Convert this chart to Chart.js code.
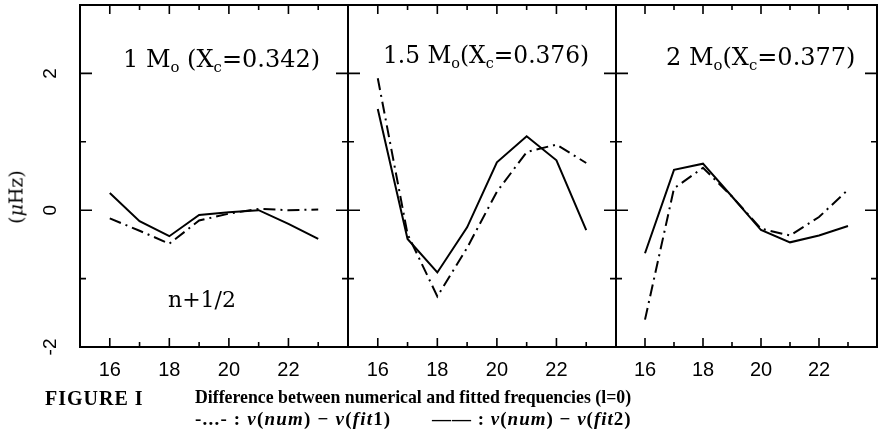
<!DOCTYPE html>
<html>
<head>
<meta charset="utf-8">
<script src="https://cdn.jsdelivr.net/npm/chart.js@4.4.0/dist/chart.umd.min.js"></script>
<style>
body { margin: 0; background: #fff; width: 888px; height: 434px; position: relative; overflow: hidden; font-family: "DejaVu Serif", serif; color: #000; }
.box { position: absolute; left: 0; top: 0; width: 888px; height: 390px; }
.t { position: absolute; white-space: nowrap; line-height: 1; }
.title { font-size: 24px; }
sub { font-size: 62%; vertical-align: baseline; position: relative; top: 0.35em; }
.cap { font-family: "Liberation Serif", serif; font-size: 17.8px; font-weight: bold; }
</style>
</head>
<body>
<div class="box"><canvas id="p0"></canvas></div>
<div class="box"><canvas id="p1"></canvas></div>
<div class="box"><canvas id="p2"></canvas></div>

<div class="t title" style="left:123px; top:47px;">1 M<sub>o</sub> (X<sub>c</sub>=0.342)</div>
<div class="t title" style="left:383px; top:43px; font-size:23.3px;">1.5 M<sub>o</sub>(X<sub>c</sub>=0.376)</div>
<div class="t title" style="left:666px; top:45px;">2 M<sub>o</sub>(X<sub>c</sub>=0.377)</div>
<div class="t" style="left:168px; top:289px; font-size:22px;">n+1/2</div>
<div class="t" style="left:16px; top:197px; font-size:19px; transform: translate(-50%,-50%) rotate(-90deg);">(<i>μ</i>Hz)</div>

<div class="t cap" style="left:45px; top:388px; font-size:20px; letter-spacing:1px;">FIGURE I</div>
<div class="t cap" style="left:195px; top:389px;">Difference between numerical and fitted frequencies (l=0)</div>
<div class="t cap" style="left:195px; top:409px; font-size:19px; letter-spacing:1.2px;">-...- : <i>ν</i>(<i>num</i>) − <i>ν</i>(<i>fit</i>1)</div>
<div class="t cap" style="left:432px; top:409px; font-size:19px; letter-spacing:1px;">—— : <i>ν</i>(<i>num</i>) − <i>ν</i>(<i>fit</i>2)</div>

<script>
// radial order n, same for all panels
const nModes = [16, 17, 18, 19, 20, 21, 22, 23];

// nu(num) - nu(fit1), dash-dot curves
const fit1_1M  = [-0.12, -0.30, -0.49, -0.15, -0.05, 0.02, 0.00, 0.01];
const fit1_15M = [1.93, -0.35, -1.26, -0.55, 0.27, 0.85, 0.96, 0.69];
const fit1_2M  = [-1.60, 0.32, 0.62, 0.20, -0.27, -0.37, -0.10, 0.30];

// nu(num) - nu(fit2), solid curves
const fit2_1M  = [0.25, -0.16, -0.38, -0.07, -0.03, 0.00, -0.20, -0.42];
const fit2_15M = [1.48, -0.42, -0.91, -0.25, 0.70, 1.08, 0.73, -0.29];
const fit2_2M  = [-0.63, 0.59, 0.68, 0.20, -0.29, -0.47, -0.37, -0.23];

const xTickLabels = [16, 18, 20, 22];
const yTickLabels = [-2, 0, 2];

const panels = [
    { id: 'p0', fit1: fit1_1M,  fit2: fit2_1M,  yLabels: true },
    { id: 'p1', fit1: fit1_15M, fit2: fit2_15M, yLabels: false },
    { id: 'p2', fit1: fit1_2M,  fit2: fit2_2M,  yLabels: false }
];

const PANEL_LEFT = 80, PANEL_W = 268;

// frame with inward ticks, drawn from the chart's own scales
const framePlugin = {
    id: 'frame',
    afterDraw(chart, args, opts) {
        const ctx = chart.ctx;
        const a = chart.chartArea;
        const xs = chart.scales.x, ys = chart.scales.y;
        ctx.save();
        ctx.strokeStyle = '#000';
        ctx.lineWidth = 2;
        ctx.strokeRect(a.left, a.top, a.right - a.left, a.bottom - a.top);
        ctx.lineWidth = 1.6;
        ctx.beginPath();
        xs.ticks.forEach(t => {
            if (t.value <= xs.min || t.value >= xs.max) return;
            const px = xs.getPixelForValue(t.value);
            const len = t.value % 2 === 0 ? 9 : 5;
            ctx.moveTo(px, a.bottom); ctx.lineTo(px, a.bottom - len);
            ctx.moveTo(px, a.top); ctx.lineTo(px, a.top + len);
        });
        ys.ticks.forEach(t => {
            if (t.value <= ys.min || t.value >= ys.max) return;
            const py = ys.getPixelForValue(t.value);
            const len = t.value % 2 === 0 ? 12 : 6;
            ctx.moveTo(a.left, py); ctx.lineTo(a.left + len, py);
            ctx.moveTo(a.right, py); ctx.lineTo(a.right - len, py);
        });
        ctx.stroke();
        if (opts.yLabels) {
            ctx.fillStyle = '#000';
            ctx.font = '19px "Liberation Sans", sans-serif';
            ctx.textAlign = 'center';
            ctx.textBaseline = 'middle';
            yTickLabels.forEach(v => {
                const py = ys.getPixelForValue(v);
                ctx.save();
                ctx.translate(51, py);
                ctx.rotate(-Math.PI / 2);
                ctx.fillText(v < 0 ? '-' + Math.abs(v) : String(v), 0, 0);
                ctx.restore();
            });
        }
        ctx.restore();
    }
};

panels.forEach((p, i) => {
    const left = PANEL_LEFT + i * PANEL_W;
    const right = 888 - (left + PANEL_W);
    new Chart(document.getElementById(p.id), {
        type: 'line',
        data: {
            labels: nModes,
            datasets: [{
                label: 'fit1',
                data: nModes.map((n, k) => ({ x: n, y: p.fit1[k] })),
                borderColor: '#000',
                borderWidth: 2,
                borderDash: [12, 5, 2, 5],
                pointRadius: 0,
                tension: 0
            }, {
                label: 'fit2',
                data: nModes.map((n, k) => ({ x: n, y: p.fit2[k] })),
                borderColor: '#000',
                borderWidth: 2,
                pointRadius: 0,
                tension: 0
            }]
        },
        options: {
            responsive: true,
            maintainAspectRatio: false,
            animation: false,
            events: [],
            layout: { padding: { left: left, right: right, top: 5, bottom: 3 } },
            plugins: {
                legend: { display: false },
                tooltip: { enabled: false },
                frame: { yLabels: p.yLabels }
            },
            scales: {
                x: {
                    type: 'linear',
                    min: 15,
                    max: 24,
                    afterFit: s => { s.height = 40; },
                    grid: { display: false, drawTicks: false },
                    border: { display: false },
                    ticks: {
                        stepSize: 1,
                        autoSkip: false,
                        maxRotation: 0,
                        padding: 11,
                        color: '#000',
                        font: { family: 'Liberation Sans', size: 20 },
                        callback: v => xTickLabels.includes(v) ? String(v) : ''
                    }
                },
                y: {
                    display: false,
                    min: -2,
                    max: 3,
                    ticks: { stepSize: 1 }
                }
            }
        },
        plugins: [framePlugin]
    });
});
</script>
</body>
</html>
